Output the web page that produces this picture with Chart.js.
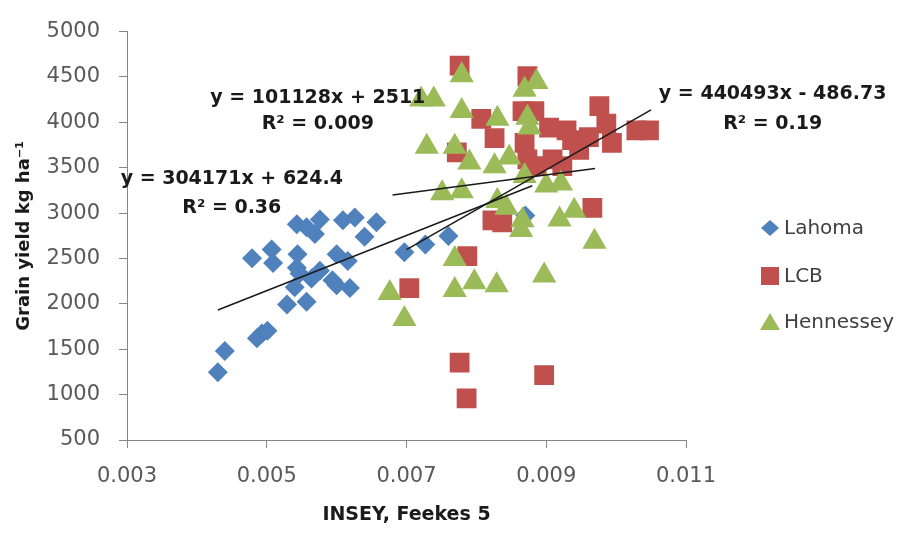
<!DOCTYPE html>
<html>
<head>
<meta charset="utf-8">
<script src="https://cdn.jsdelivr.net/npm/chart.js@4/dist/chart.umd.min.js"></script>
<style>
    body { margin: 0; background: #fff; }
    #wrap { width: 908px; height: 533px; }
</style>
</head>
<body>
<div id="wrap"><canvas id="yieldChart"></canvas></div>
<script>
// DATA
const lahomaX = [0.0043, 0.0044, 0.00486, 0.00501, 0.00493, 0.00479, 0.00507, 0.00509, 0.00544, 0.00543, 0.00543, 0.00557, 0.00576, 0.00569, 0.00609, 0.00626, 0.00657, 0.0064, 0.006, 0.00616, 0.00564, 0.00594, 0.006, 0.00619, 0.0054, 0.00529, 0.00557, 0.00547, 0.00576, 0.00697, 0.00727, 0.0076, 0.0087];
const lahomaY = [1246, 1481, 1620, 1705, 1673, 2504, 2600, 2451, 2547, 2397, 2877, 2845, 2930, 2770, 2920, 2952, 2898, 2739, 2547, 2472, 2280, 2259, 2206, 2174, 2184, 1992, 2024, 2334, 2365, 2568, 2653, 2749, 2973];

const lcbX = [0.00776, 0.00873, 0.00807, 0.00826, 0.00772, 0.00866, 0.00883, 0.00869, 0.00873, 0.00904, 0.00929, 0.00909, 0.00937, 0.00976, 0.00961, 0.00986, 0.00994, 0.01029, 0.01047, 0.00886, 0.00923, 0.00947, 0.00823, 0.00837, 0.00966, 0.00787, 0.00704, 0.00776, 0.00786, 0.00897];
const lcbY = [4625, 4508, 4039, 3826, 3670, 4124, 4124, 3773, 3591, 3943, 3911, 3591, 3805, 4178, 3837, 3986, 3773, 3911, 3911, 3517, 3517, 3698, 2920, 2899, 3058, 2525, 2174, 1353, 958, 1214];

const hennX = [0.00721, 0.00739, 0.00779, 0.00886, 0.00869, 0.00779, 0.0083, 0.00873, 0.00876, 0.00729, 0.00769, 0.0079, 0.00826, 0.00847, 0.00751, 0.00779, 0.00869, 0.009, 0.00921, 0.0083, 0.00843, 0.00866, 0.00864, 0.00919, 0.0094, 0.00969, 0.00769, 0.00676, 0.00697, 0.00769, 0.00797, 0.00829, 0.00897];
const hennY = [4252, 4252, 4519, 4444, 4359, 4124, 4039, 4050, 3943, 3730, 3730, 3559, 3517, 3613, 3218, 3240, 3410, 3304, 3325, 3133, 3058, 2920, 2813, 2930, 3026, 2685, 2493, 2120, 1833, 2152, 2238, 2206, 2312];

// trend lines: slope, intercept, x range
const seriesNames = ["Lahoma", "LCB", "Hennessey"];
const trendSlope = [304171, 440493, 101128];
const trendIntercept = [624.4, -486.73, 2511];
const trendFrom = [0.0043, 0.0070, 0.0068];
const trendTo = [0.0088, 0.0105, 0.0097];
const trendEq = ["y = 304171x + 624.4", "y = 440493x - 486.73", "y = 101128x + 2511"];
const trendR2 = ["R² = 0.36", "R² = 0.19", "R² = 0.009"];

const xTicks = [0.003, 0.005, 0.007, 0.009, 0.011];
const yTicks = [500, 1000, 1500, 2000, 2500, 3000, 3500, 4000, 4500, 5000];

// label anchors (data units)
const eqAnchorX = [0.0045, 0.01224, 0.00573];
const eqAnchorY = [3378, 4316, 4263];
const r2AnchorY = [3058, 3986, 3986];

const BLUE = "#4f81bd", RED = "#c0504d", GREEN = "#9bbb59";

const pts = (xs, ys) => xs.map((x, i) => ({ x: x, y: ys[i] }));

const trendSets = trendSlope.map((m, i) => ({
    label: "trend " + seriesNames[i],
    type: "line",
    data: [trendFrom[i], trendTo[i]].map(x => ({ x: x, y: m * x + trendIntercept[i] })),
    borderColor: "#1a1a1a",
    borderWidth: 1.5,
    pointRadius: 0,
    fill: false,
    order: 1
}));

// equation texts + legend
const extras = {
    id: "extras",
    afterDatasetsDraw(chart) {
        const ctx = chart.ctx, xs = chart.scales.x, ys = chart.scales.y;
        ctx.save();
        ctx.fillStyle = "#1a1a1a";
        ctx.font = "bold 19px 'DejaVu Sans'";
        ctx.textAlign = "center";
        ctx.textBaseline = "middle";
        trendEq.forEach((t, i) => {
            const px = xs.getPixelForValue(eqAnchorX[i]);
            ctx.fillText(t, px, ys.getPixelForValue(eqAnchorY[i]));
            ctx.fillText(trendR2[i], px, ys.getPixelForValue(r2AnchorY[i]));
        });

        // legend
        const lx = 770, rows = [228, 276, 322], cols = [BLUE, RED, GREEN];
        ctx.font = "20px 'DejaVu Sans'";
        ctx.textAlign = "left";
        rows.forEach((y, i) => {
            ctx.fillStyle = cols[i];
            ctx.beginPath();
            if (i === 0) {
                ctx.moveTo(lx, y - 8); ctx.lineTo(lx + 9, y); ctx.lineTo(lx, y + 8); ctx.lineTo(lx - 9, y);
            } else if (i === 1) {
                ctx.rect(lx - 9, y - 9, 18, 18);
            } else {
                ctx.moveTo(lx, y - 9); ctx.lineTo(lx + 10, y + 8); ctx.lineTo(lx - 10, y + 8);
            }
            ctx.closePath();
            ctx.fill();
            ctx.fillStyle = "#404040";
            ctx.fillText(seriesNames[i], lx + 14, y + 1);
        });
        ctx.restore();
    }
};

new Chart(document.getElementById("yieldChart"), {
    type: "scatter",
    data: {
        datasets: trendSets.concat([
            {
                label: "Hennessey",
                data: pts(hennX, hennY),
                pointStyle: "triangle",
                pointRadius: 14,
                backgroundColor: GREEN,
                borderColor: GREEN,
                borderWidth: 0,
                order: 2
            },
            {
                label: "LCB",
                data: pts(lcbX, lcbY),
                pointStyle: "rect",
                pointRadius: 14,
                backgroundColor: RED,
                borderColor: RED,
                borderWidth: 0,
                order: 3
            },
            {
                label: "Lahoma",
                data: pts(lahomaX, lahomaY),
                pointStyle: "rectRot",
                pointRadius: 10,
                backgroundColor: BLUE,
                borderColor: BLUE,
                borderWidth: 0,
                order: 4
            }
        ])
    },
    options: {
        responsive: true,
        maintainAspectRatio: false,
        animation: false,
        layout: { padding: { left: 0, right: 222, top: 18, bottom: 0 } },
        plugins: {
            legend: { display: false },
            tooltip: { enabled: false }
        },
        scales: {
            x: {
                type: "linear",
                min: 0.003,
                max: 0.011,
                afterBuildTicks: s => { s.ticks = xTicks.map(v => ({ value: v })); },
                afterFit: s => { s.height = 93; },
                ticks: {
                    padding: 16,
                    color: "#595959",
                    font: { family: "DejaVu Sans", size: 21 },
                    callback: v => v.toFixed(3)
                },
                grid: { drawOnChartArea: false, tickLength: 8, color: "#868686" },
                border: { color: "#868686" },
                title: {
                    display: true,
                    text: "INSEY, Feekes 5",
                    color: "#1a1a1a",
                    font: { family: "DejaVu Sans", size: 19, weight: "bold" },
                    padding: { top: 0, bottom: 7 }
                }
            },
            y: {
                min: 500,
                max: 5000,
                afterBuildTicks: s => { s.ticks = yTicks.map(v => ({ value: v })); },
                afterFit: s => { s.width = 127; },
                ticks: {
                    padding: 19,
                    color: "#595959",
                    font: { family: "DejaVu Sans", size: 21 },
                    callback: v => String(v)
                },
                grid: { drawOnChartArea: false, tickLength: 8, color: "#868686" },
                border: { color: "#868686" },
                title: {
                    display: true,
                    text: "Grain yield kg ha⁻¹",
                    color: "#1a1a1a",
                    font: { family: "DejaVu Sans", size: 18, weight: "bold" },
                    padding: { top: 14, bottom: 0 }
                }
            }
        }
    },
    plugins: [extras]
});
</script>
</body>
</html>
